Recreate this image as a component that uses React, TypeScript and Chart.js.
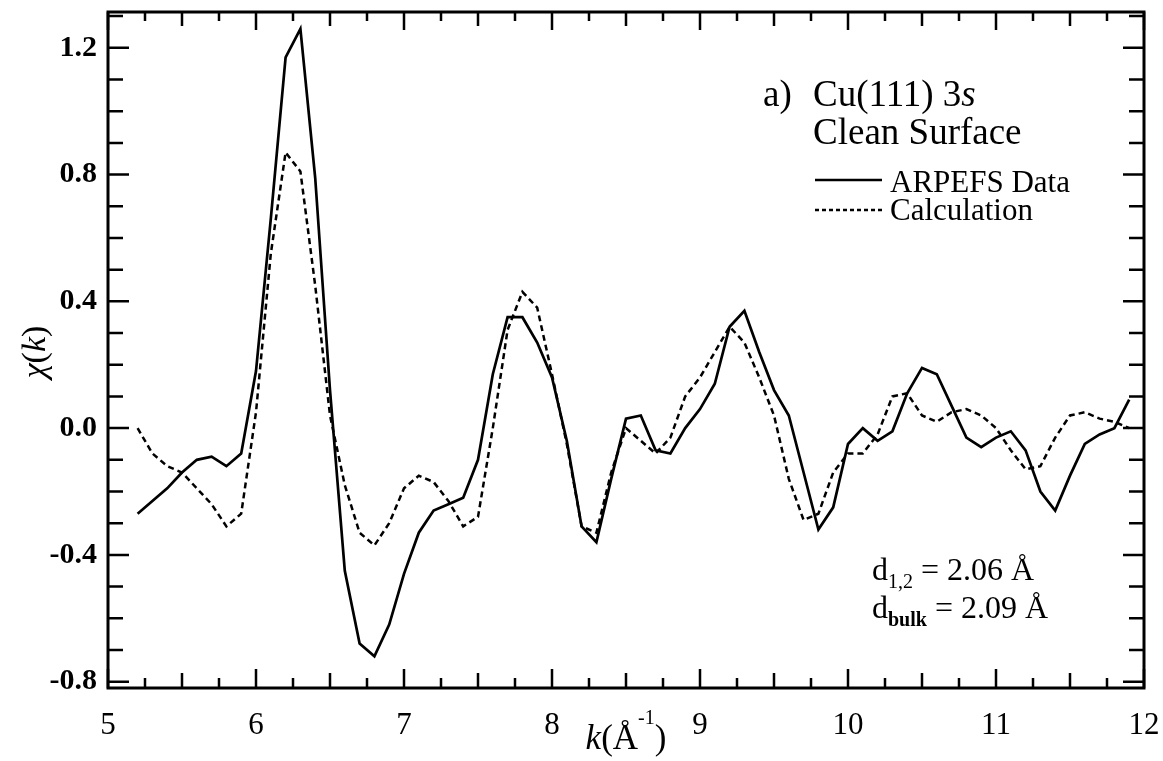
import React, { useEffect, useRef } from "react";
import { Chart, registerables } from "chart.js";

Chart.register(...registerables);

// ---- data ----
const kValues = [
  5.2, 5.3, 5.4, 5.5, 5.6, 5.7, 5.8, 5.9,
  6.0, 6.1, 6.2, 6.3, 6.4, 6.5, 6.6, 6.7, 6.8, 6.9,
  7.0, 7.1, 7.2, 7.3, 7.4, 7.5, 7.6, 7.7, 7.8, 7.9,
  8.0, 8.1, 8.2, 8.3, 8.4, 8.5, 8.6, 8.7, 8.8, 8.9,
  9.0, 9.1, 9.2, 9.3, 9.4, 9.5, 9.6, 9.7, 9.8, 9.9,
  10.0, 10.1, 10.2, 10.3, 10.4, 10.5, 10.6, 10.7, 10.8, 10.9,
  11.0, 11.1, 11.2, 11.3, 11.4, 11.5, 11.6, 11.7, 11.8, 11.9,
];

const arpefsData = [
  -0.27, -0.23, -0.19, -0.14, -0.1, -0.09, -0.12, -0.08,
  0.18, 0.66, 1.17, 1.26, 0.79, 0.12, -0.45, -0.68, -0.72, -0.62,
  -0.46, -0.33, -0.26, -0.24, -0.22, -0.1, 0.17, 0.35, 0.35, 0.27,
  0.16, -0.04, -0.31, -0.36, -0.16, 0.03, 0.04, -0.07, -0.08, 0.0,
  0.06, 0.14, 0.32, 0.37, 0.24, 0.12, 0.04, -0.14, -0.32, -0.25,
  -0.05, 0.0, -0.04, -0.01, 0.11, 0.19, 0.17, 0.07, -0.03, -0.06,
  -0.03, -0.01, -0.07, -0.2, -0.26, -0.15, -0.05, -0.02, 0.0, 0.09,
];

const calculation = [
  0.0, -0.08, -0.12, -0.14, -0.19, -0.24, -0.31, -0.27,
  0.05, 0.55, 0.87, 0.81, 0.45, 0.04, -0.18, -0.33, -0.37, -0.3,
  -0.19, -0.15, -0.17, -0.23, -0.31, -0.28, 0.0, 0.31, 0.43, 0.38,
  0.17, -0.05, -0.31, -0.33, -0.14, 0.0, -0.04, -0.08, -0.03, 0.1,
  0.16, 0.24, 0.32, 0.27, 0.16, 0.04, -0.16, -0.29, -0.27, -0.14,
  -0.08, -0.08, -0.02, 0.1, 0.11, 0.04, 0.02, 0.05, 0.06, 0.04,
  0.0, -0.07, -0.13, -0.12, -0.03, 0.04, 0.05, 0.03, 0.02, 0.0,
];

const xTickValues = [5, 6, 7, 8, 9, 10, 11, 12];
const yTickValues = [-0.8, -0.4, 0.0, 0.4, 0.8, 1.2];

const seriesLabels = ["ARPEFS Data", "Calculation"];
const titleLine1 = ["a)", "Cu(111) 3", "s"];
const titleLine2 = "Clean Surface";
const noteLine1 = ["d", "1,2", " = 2.06 Å"];
const noteLine2 = ["d", "bulk", " = 2.09 Å"];
const xAxisTitle = ["k", "(Å", "-1", ")"];
const yAxisTitle = ["χ", "(", "k", ")"];

const FONT = "'Liberation Serif', 'Times New Roman', serif";

type Run = { t: string; size: number; style?: string; weight?: string; dy?: number };

function runsWidth(ctx: CanvasRenderingContext2D, runs: Run[]) {
  let w = 0;
  for (const r of runs) {
    ctx.font = `${r.style || "normal"} ${r.weight || "normal"} ${r.size}px ${FONT}`;
    w += ctx.measureText(r.t).width;
  }
  return w;
}

function drawRuns(
  ctx: CanvasRenderingContext2D,
  x: number,
  y: number,
  runs: Run[],
  align: "left" | "center" = "left"
) {
  let cx = align === "center" ? x - runsWidth(ctx, runs) / 2 : x;
  ctx.textAlign = "left";
  for (const r of runs) {
    ctx.font = `${r.style || "normal"} ${r.weight || "normal"} ${r.size}px ${FONT}`;
    ctx.fillText(r.t, cx, y + (r.dy || 0));
    cx += ctx.measureText(r.t).width;
  }
}

const zeroPadding = (s: any) => {
  s.paddingTop = 0;
  s.paddingBottom = 0;
  s.paddingLeft = 0;
  s.paddingRight = 0;
};

const decorPlugin = {
  id: "decor",
  afterDraw(chart: any) {
    const ctx: CanvasRenderingContext2D = chart.ctx;
    const xa = chart.scales.x;
    const ya = chart.scales.y;
    const { left, right, top, bottom } = chart.chartArea;
    ctx.save();
    ctx.strokeStyle = "#000";
    ctx.fillStyle = "#000";
    ctx.setLineDash([]);

    // frame
    ctx.lineWidth = 3;
    ctx.strokeRect(left, top, right - left, bottom - top);

    // x ticks (inward, top and bottom)
    ctx.lineWidth = 2.5;
    ctx.beginPath();
    for (let i = 0; i <= 28; i++) {
      const v = xa.min + i * 0.25;
      if (v > xa.max + 1e-9) break;
      const px = xa.getPixelForValue(v);
      const len = i % 4 === 0 ? 19 : i % 2 === 0 ? 15 : 10;
      ctx.moveTo(px, bottom);
      ctx.lineTo(px, bottom - len);
      ctx.moveTo(px, top);
      ctx.lineTo(px, top + len - 1);
    }
    // y ticks (inward, left and right)
    for (let i = -8; i <= 13; i++) {
      const v = i / 10;
      if (v < ya.min - 1e-9 || v > ya.max + 1e-9) continue;
      const py = ya.getPixelForValue(v);
      const len = i % 4 === 0 ? 21 : 15;
      ctx.moveTo(left, py);
      ctx.lineTo(left + len, py);
      ctx.moveTo(right, py);
      ctx.lineTo(right - len, py);
    }
    ctx.stroke();

    // legend samples
    ctx.lineWidth = 2.7;
    ctx.beginPath();
    ctx.moveTo(815, 180);
    ctx.lineTo(882, 180);
    ctx.stroke();
    ctx.lineWidth = 2.5;
    ctx.setLineDash([4, 3]);
    ctx.beginPath();
    ctx.moveTo(815, 210);
    ctx.lineTo(882, 210);
    ctx.stroke();
    ctx.setLineDash([]);

    ctx.textBaseline = "alphabetic";
    // title
    drawRuns(ctx, 763, 106, [{ t: titleLine1[0], size: 37 }]);
    drawRuns(ctx, 813, 106, [
      { t: titleLine1[1], size: 37 },
      { t: titleLine1[2], size: 37, style: "italic" },
    ]);
    drawRuns(ctx, 813, 144, [{ t: titleLine2, size: 37 }]);
    // legend text
    drawRuns(ctx, 890, 192, [{ t: seriesLabels[0], size: 31 }]);
    drawRuns(ctx, 890, 220, [{ t: seriesLabels[1], size: 31 }]);
    // notes
    drawRuns(ctx, 872, 580, [
      { t: noteLine1[0], size: 32 },
      { t: noteLine1[1], size: 20, dy: 8 },
      { t: noteLine1[2], size: 32 },
    ]);
    drawRuns(ctx, 872, 618, [
      { t: noteLine2[0], size: 32 },
      { t: noteLine2[1], size: 20, weight: "bold", dy: 8 },
      { t: noteLine2[2], size: 32 },
    ]);

    // x axis title
    drawRuns(
      ctx,
      (left + right) / 2,
      749,
      [
        { t: xAxisTitle[0], size: 35, style: "italic" },
        { t: xAxisTitle[1], size: 35 },
        { t: xAxisTitle[2], size: 20, dy: -25 },
        { t: xAxisTitle[3], size: 35 },
      ],
      "center"
    );

    // y axis title (rotated)
    ctx.save();
    ctx.translate(45, (top + bottom) / 2 + 2);
    ctx.rotate(-Math.PI / 2);
    drawRuns(
      ctx,
      0,
      0,
      [
        { t: yAxisTitle[0], size: 34, style: "italic" },
        { t: yAxisTitle[1], size: 34 },
        { t: yAxisTitle[2], size: 34, style: "italic" },
        { t: yAxisTitle[3], size: 34 },
      ],
      "center"
    );
    ctx.restore();

    ctx.restore();
  },
};

export default function App() {
  const canvasRef = useRef<HTMLCanvasElement | null>(null);

  useEffect(() => {
    document.body.style.margin = "0";
    const canvas = canvasRef.current;
    if (!canvas) return;
    const chart = new Chart(canvas, {
      type: "line",
      data: {
        datasets: [
          {
            label: seriesLabels[0],
            data: kValues.map((k, i) => ({ x: k, y: arpefsData[i] })),
            borderColor: "#000",
            borderWidth: 2.7,
            pointRadius: 0,
            tension: 0,
            fill: false,
          },
          {
            label: seriesLabels[1],
            data: kValues.map((k, i) => ({ x: k, y: calculation[i] })),
            borderColor: "#000",
            borderWidth: 2.5,
            borderDash: [6, 4],
            pointRadius: 0,
            tension: 0,
            fill: false,
          },
        ],
      },
      options: {
        animation: false,
        responsive: false,
        maintainAspectRatio: false,
        devicePixelRatio: 1,
        layout: { padding: { top: 12, right: 19, left: 0, bottom: 0 } },
        plugins: { legend: { display: false }, tooltip: { enabled: false } },
        scales: {
          x: {
            type: "linear",
            min: 5,
            max: 12,
            afterBuildTicks: (s: any) => {
              s.ticks = xTickValues.map((v) => ({ value: v }));
            },
            afterFit: (s: any) => {
              s.height = 73;
              zeroPadding(s);
            },
            grid: { display: false, drawTicks: false },
            border: { display: false },
            ticks: {
              color: "#000",
              font: { family: FONT, size: 31 },
              padding: 19,
              maxRotation: 0,
              autoSkip: false,
              callback: (v: any) => String(v),
            },
          },
          y: {
            type: "linear",
            min: -0.82,
            max: 1.313,
            afterBuildTicks: (s: any) => {
              s.ticks = yTickValues.map((v) => ({ value: v }));
            },
            afterFit: (s: any) => {
              s.width = 108;
              zeroPadding(s);
            },
            grid: { display: false, drawTicks: false },
            border: { display: false },
            ticks: {
              color: "#000",
              font: { family: FONT, size: 30, weight: "bold" },
              padding: 11,
              autoSkip: false,
              callback: (v: any) => Number(v).toFixed(1),
            },
          },
        },
      },
      plugins: [decorPlugin],
    });
    return () => chart.destroy();
  }, []);

  return (
    <canvas
      ref={canvasRef}
      width={1163}
      height={761}
      style={{ display: "block", width: 1163, height: 761 }}
    />
  );
}
